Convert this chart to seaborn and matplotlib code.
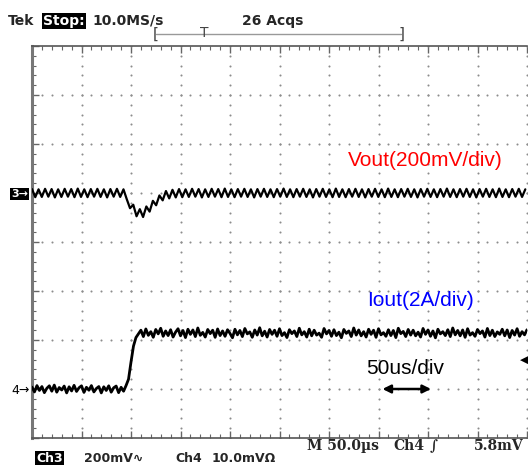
#scope capture: load transient, Vout (ch3) and Iout (ch4)
import numpy as np
import matplotlib
matplotlib.use("Agg")
import matplotlib.pyplot as plt
from matplotlib.ticker import MultipleLocator
from matplotlib.lines import Line2D
import seaborn as sns

# scope settings
time_per_div = 50.0    # us/div
vout_per_div = 200.0   # mV/div
iout_per_div = 2.0     # A/div
ch3_offset = 1.0       # divisions from screen centre
ch4_offset = -3.0

# Vout ripple, mV around nominal, one sample every 3.3 us
vout_step = 3.3
vout_mv = [16, -17, 15, -16, 17, -15, 16, -18, 15, -16, 17, -15, 16, -17, 18,
           -16, 15, -17, 16, -15, 17, -16, 15, -18, 16, -15, 17, -16, 15,
           -25, -62, -48, -95, -66, -98, -55, -76, -32, -50, -10, -30, 8, -22, 13, -18,
           16, -17, 15, -16, 17, -15, 16, -18, 15, -16,
           17, -15, 16, -17, 18, -16, 15, -17, 16, -15,
           17, -16, 15, -18, 16, -15, 17, -16, 15, -17,
           16, -15, 18, -16, 15, -17, 16, -15, 17, -16,
           15, -18, 16, -15, 17, -16, 15, -17, 18, -16,
           15, -17, 16, -15, 17, -16, 15, -18, 16, -15,
           17, -16, 15, -17, 18, -16, 15, -17, 16, -15,
           17, -16, 15, -18, 16, -15, 17, -16, 15, -17,
           16, -15, 18, -16, 15, -17, 16, -15, 17, -16,
           15, -18, 16, -15, 17, -16, 15, -17, 18, -16,
           15, -17, 16, -15, 17, -16, 15]

# Iout, A, one sample every 2.5 us
iout_step = 2.5
iout_a = [0.08, -0.12, 0.14, -0.06, 0.10, -0.15, 0.03, 0.13, -0.09, 0.16,
          -0.13, 0.06, -0.04, 0.12, -0.16, 0.09, -0.08, 0.15, -0.10, 0.05,
          0.13, -0.14, 0.07, -0.05, 0.14, -0.12, 0.02, 0.10, -0.16, 0.09,
          -0.06, 0.13, -0.13, 0.05, 0.12, -0.15, 0.07, -0.09, 0.14,
          0.40, 1.10, 1.75, 2.10, 2.25,
          2.40, 2.14, 2.45, 2.19, 2.34, 2.11, 2.43, 2.25, 2.48, 2.15,
          2.37, 2.18, 2.42, 2.12, 2.32, 2.46, 2.17, 2.39, 2.10, 2.44,
          2.23, 2.41, 2.14, 2.49, 2.19, 2.31, 2.12, 2.43, 2.26, 2.40,
          2.11, 2.45, 2.18, 2.37, 2.15, 2.42, 2.27, 2.09, 2.44, 2.21,
          2.39, 2.14, 2.47, 2.25, 2.33, 2.11, 2.41, 2.20, 2.50, 2.17,
          2.36, 2.12, 2.43, 2.23, 2.40, 2.15, 2.46, 2.18, 2.30, 2.10,
          2.42, 2.26, 2.37, 2.14, 2.48, 2.21, 2.34, 2.12, 2.44, 2.17,
          2.40, 2.20, 2.28, 2.11, 2.47, 2.25, 2.39, 2.15, 2.42, 2.18,
          2.32, 2.09, 2.43, 2.27, 2.37, 2.14, 2.49, 2.20, 2.41, 2.17,
          2.34, 2.12, 2.44, 2.23, 2.40, 2.11, 2.46, 2.21, 2.30, 2.15,
          2.42, 2.18, 2.39, 2.10, 2.48, 2.26, 2.35, 2.14, 2.43, 2.20,
          2.40, 2.17, 2.32, 2.12, 2.47, 2.23, 2.41, 2.15, 2.37, 2.09,
          2.44, 2.25, 2.34, 2.18, 2.42, 2.14, 2.49, 2.21, 2.39, 2.17,
          2.41, 2.11, 2.46, 2.20, 2.30, 2.15, 2.43, 2.26, 2.37, 2.12,
          2.47, 2.18, 2.40, 2.14, 2.33, 2.23, 2.44, 2.17, 2.41, 2.10,
          2.39, 2.20, 2.46, 2.15, 2.34, 2.21, 2.42]

# convert to screen divisions
t_v = np.arange(len(vout_mv)) * vout_step
t_i = np.arange(len(iout_a)) * iout_step
vout_div = ch3_offset + np.array(vout_mv) / vout_per_div
iout_div = ch4_offset + np.array(iout_a) / iout_per_div

sns.set_theme(style="white")
plt.rcParams["font.family"] = ["DejaVu Sans"]

W, H = 528, 466
def fx(x):
    return x / W
def fy(y):
    return 1 - y / H

fig = plt.figure(figsize=(W / 100, H / 100), dpi=100)
ax = fig.add_axes([fx(32), 28 / H, 495 / W, 392 / H])

# dotted graticule, 5 dots per division
grey = "#8c8c8c"
gy = np.arange(-4, 4.01, 0.2)
gx = np.arange(0, 500.1, time_per_div / 5)
for xv in np.arange(time_per_div, 500.1, time_per_div):
    ax.scatter(np.full(len(gy), xv), gy, s=2.2, color=grey, linewidths=0, zorder=1)
for yv in range(-3, 4):
    ax.scatter(gx, np.full(len(gx), yv), s=2.2, color=grey, linewidths=0, zorder=1)

# traces
sns.lineplot(x=t_v, y=vout_div, color="black", linewidth=1.6, sort=False,
             estimator=None, ax=ax, zorder=3)
sns.lineplot(x=t_i, y=iout_div, color="black", linewidth=2.0, sort=False,
             estimator=None, ax=ax, zorder=3)

ax.set_xlim(0, 10 * time_per_div)
ax.set_ylim(-4, 4)
ax.set_xlabel("")
ax.set_ylabel("")
ax.xaxis.set_major_locator(MultipleLocator(time_per_div))
ax.xaxis.set_minor_locator(MultipleLocator(time_per_div / 5))
ax.yaxis.set_major_locator(MultipleLocator(1))
ax.yaxis.set_minor_locator(MultipleLocator(0.2))
ax.tick_params(which="both", direction="in", top=True, bottom=True, left=True,
               right=False, labelbottom=False, labelleft=False, colors="#666666")
ax.tick_params(which="major", length=5, width=1)
ax.tick_params(which="minor", length=3, width=0.8)
for side in ["top", "bottom"]:
    ax.spines[side].set_color("#555555")
    ax.spines[side].set_linewidth(1.2)
ax.spines["left"].set_color("#777777")
ax.spines["left"].set_linewidth(2.2)
ax.spines["right"].set_visible(False)

# time/div arrow
ax.annotate("", xy=(354, ch4_offset), xytext=(403, ch4_offset),
            arrowprops=dict(arrowstyle="<|-|>", color="black", lw=1.8,
                            mutation_scale=12, shrinkA=0, shrinkB=0))

# header
hdr = dict(fontsize=10, fontweight="bold", va="center", ha="left")
fig.text(fx(8), fy(21), "Tek", **hdr)
fig.text(fx(43), fy(21), "Stop:", color="white",
         bbox=dict(facecolor="black", edgecolor="none", pad=1), **hdr)
fig.text(fx(92), fy(21), "10.0MS/s", **hdr)
fig.text(fx(242), fy(21), "26 Acqs", **hdr)

# record bracket with trigger position
fig.add_artist(Line2D([fx(156), fx(401)], [fy(34), fy(34)], color="#999999", lw=1))
fig.text(fx(153), fy(34), "[", color="#444444", fontsize=11, va="center", ha="left")
fig.text(fx(405), fy(34), "]", color="#444444", fontsize=11, va="center", ha="right")
fig.text(fx(204), fy(33), "T", color="#444444", fontsize=10, va="center", ha="center")

# channel ground markers
fig.text(fx(11), fy(194), "3\u2192", color="white", fontsize=8, fontweight="bold",
         va="center", ha="left", bbox=dict(facecolor="black", edgecolor="none", pad=0.8))
fig.text(fx(11), fy(390), "4\u2192", color="black", fontsize=9,
         va="center", ha="left")
fig.text(fx(528), fy(360), "\u25c0", color="black", fontsize=8,
         va="center", ha="right")

# annotations
lab = dict(fontsize=15, family="Liberation Sans", va="center", ha="left")
fig.text(fx(348), fy(161), "Vout(200mV/div)", color="red", **lab)
fig.text(fx(367), fy(301), "Iout(2A/div)", color="blue", **lab)
fig.text(fx(366), fy(369), "50us/div", color="black", **lab)

# bottom readout
ftr = dict(fontsize=10, fontweight="bold", family="DejaVu Serif", va="center", ha="left")
fig.text(fx(307), fy(446), "M 50.0\u00b5s", **ftr)
fig.text(fx(393), fy(446), "Ch4", **ftr)
fig.text(fx(430), fy(446), "\u222b", **ftr)
fig.text(fx(474), fy(446), "5.8mV", **ftr)

ftr2 = dict(fontsize=9, fontweight="bold", va="center", ha="left")
fig.text(fx(36), fy(458), "Ch3", color="white",
         bbox=dict(facecolor="black", edgecolor="none", pad=0.6), **ftr2)
fig.text(fx(84), fy(458), "200mV\u223f", **ftr2)
fig.text(fx(175), fy(458), "Ch4", **ftr2)
fig.text(fx(212), fy(458), "10.0mV\u03a9", **ftr2)

fig.savefig("out.png", dpi=100)
